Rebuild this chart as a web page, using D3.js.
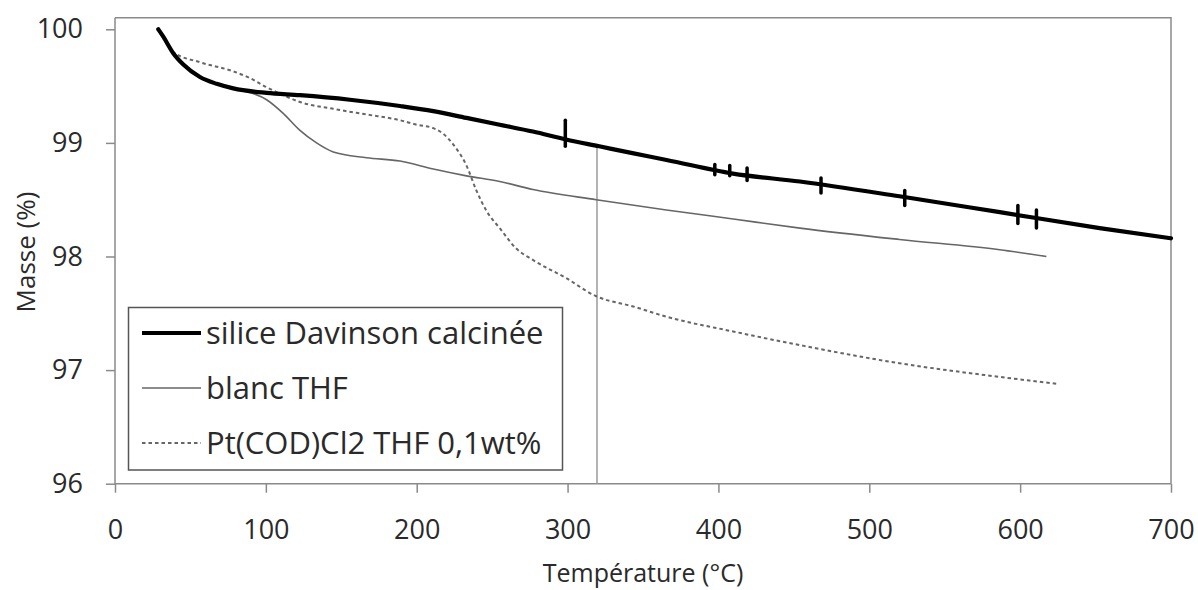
<!DOCTYPE html>
<html>
<head>
<meta charset="utf-8">
<script src="https://cdn.jsdelivr.net/npm/d3@7"></script>
<style>
  html, body { margin: 0; padding: 0; background: #fff; }
  svg { display: block; }
  text { font-family: "Open Sans", "DejaVu Sans", sans-serif; fill: #2a2a2a; }
</style>
</head>
<body>
<svg id="chart" width="1198" height="590"></svg>
<script>
// ---- Data ----
const xTicks = [0, 100, 200, 300, 400, 500, 600, 700];
const yTicks = [96, 97, 98, 99, 100];

const seriesNames = ["silice Davinson calcinée", "blanc THF", "Pt(COD)Cl2 THF 0,1wt%"];

const tempSilice  = [28.7, 32, 38.6, 45.3, 56.3, 67.4, 78.4, 100.5, 122.6, 155.7, 188.9, 211, 233, 255, 277, 299, 321, 343, 365.6, 409.6, 454, 520, 586.5, 652.7, 700];
const masseSilice = [100, 99.935, 99.79, 99.69, 99.58, 99.52, 99.48, 99.44, 99.42, 99.38, 99.325, 99.28, 99.22, 99.16, 99.10, 99.03, 98.97, 98.91, 98.85, 98.73, 98.66, 98.53, 98.39, 98.25, 98.16];

const tempBlanc  = [28.7, 32, 38.6, 45.3, 56.3, 67.4, 78.4, 85, 100.5, 111.5, 122.6, 133.6, 144.7, 166.8, 188.9, 211, 233, 255, 277, 319, 365.5, 409.8, 454, 520, 586.5, 617.4];
const masseBlanc = [100, 99.935, 99.79, 99.69, 99.58, 99.52, 99.48, 99.46, 99.38, 99.26, 99.11, 99.0, 98.92, 98.87, 98.84, 98.77, 98.71, 98.66, 98.59, 98.50, 98.41, 98.33, 98.25, 98.15, 98.06, 98.0];

const tempPt  = [28.7, 32, 38.6, 56.3, 78.4, 89.5, 100.5, 111.5, 122.6, 144.7, 166.8, 188.9, 200, 211, 217.6, 224, 233, 239.6, 246.3, 255, 266, 277, 299, 319, 343.5, 365.5, 409.7, 454, 520, 586.5, 624];
const massePt = [100, 99.935, 99.80, 99.71, 99.63, 99.57, 99.49, 99.42, 99.36, 99.30, 99.25, 99.20, 99.16, 99.13, 99.08, 98.99, 98.80, 98.58, 98.40, 98.25, 98.07, 97.97, 97.81, 97.65, 97.56, 97.47, 97.34, 97.22, 97.06, 96.94, 96.88];

// noise spikes on the silice curve: temperature, low, high
const spikeTemp = [298.5, 397.6, 407.5, 419, 468, 523.5, 598.5, 610.8];
const spikeLow  = [98.97, 98.72, 98.71, 98.67, 98.56, 98.45, 98.29, 98.25];
const spikeHigh = [99.20, 98.81, 98.80, 98.78, 98.69, 98.58, 98.45, 98.41];

// vertical marker line
const markerTemp = 319.5;
const markerTop = 98.97;

// ---- Layout ----
const svg = d3.select("#chart");
const x = d3.scaleLinear().domain([0, 700]).range([115, 1171]);
const y = d3.scaleLinear().domain([96, 100]).range([483.7, 29.3]);
const yTopVal = 100.102;

const frameColor = "#8a8a8a";

// frame (top and right)
svg.append("path")
  .attr("d", `M${x(0)},${y(yTopVal)} H${x(700)} V${y(96)}`)
  .attr("fill", "none").attr("stroke", frameColor).attr("stroke-width", 1.5);

// axes
const xAxis = svg.append("g").attr("transform", `translate(0,${y(96)})`)
  .call(d3.axisBottom(x).tickValues(xTicks).tickFormat(d3.format("d")).tickSize(9).tickPadding(27));
const yAxis = svg.append("g").attr("transform", `translate(${x(0)},0)`)
  .call(d3.axisLeft(y).tickValues(yTicks).tickFormat(d3.format("d")).tickSize(9).tickPadding(23));
[xAxis, yAxis].forEach(g => {
  g.select(".domain").remove();
  g.selectAll(".tick line").attr("stroke", frameColor).attr("stroke-width", 1.5);
  g.selectAll(".tick text").style("font-family", "'Open Sans', sans-serif")
    .style("font-size", "27px").attr("fill", "#2a2a2a");
});
// axis lines
svg.append("line").attr("x1", x(0)).attr("x2", x(700)).attr("y1", y(96)).attr("y2", y(96))
  .attr("stroke", frameColor).attr("stroke-width", 1.5);
svg.append("line").attr("x1", x(0)).attr("x2", x(0)).attr("y1", y(96)).attr("y2", y(yTopVal))
  .attr("stroke", frameColor).attr("stroke-width", 1.5);

// axis titles
svg.append("text").attr("x", (x(0) + x(700)) / 2).attr("y", 582)
  .attr("text-anchor", "middle").style("font-size", "25px").text("Température (°C)");
svg.append("text").attr("transform", `translate(35,252) rotate(-90)`)
  .attr("text-anchor", "middle").style("font-size", "26px").text("Masse (%)");

// marker line
svg.append("line").attr("x1", x(markerTemp)).attr("x2", x(markerTemp))
  .attr("y1", y(markerTop)).attr("y2", y(96))
  .attr("stroke", "#9a9a9a").attr("stroke-width", 1.5);

const line = d3.line().x(d => x(d[0])).y(d => y(d[1])).curve(d3.curveMonotoneX);
const zip = (a, b) => a.map((v, i) => [v, b[i]]);

// Pt dotted
svg.append("path").datum(zip(tempPt, massePt)).attr("d", line)
  .attr("fill", "none").attr("stroke", "#666").attr("stroke-width", 2)
  .attr("stroke-dasharray", "3.5,3");
// blanc
svg.append("path").datum(zip(tempBlanc, masseBlanc)).attr("d", line)
  .attr("fill", "none").attr("stroke", "#666").attr("stroke-width", 1.6);
// silice
svg.append("path").datum(zip(tempSilice, masseSilice)).attr("d", line)
  .attr("fill", "none").attr("stroke", "#000").attr("stroke-width", 4.2)
  .attr("stroke-linecap", "round");
// spikes
svg.append("g").selectAll("line").data(spikeTemp).join("line")
  .attr("x1", d => x(d)).attr("x2", d => x(d))
  .attr("y1", (d, i) => y(spikeHigh[i])).attr("y2", (d, i) => y(spikeLow[i]))
  .attr("stroke", "#000").attr("stroke-width", 3.5).attr("stroke-linecap", "round");

// legend
const lg = svg.append("g");
lg.append("rect").attr("x", 128.5).attr("y", 307.5).attr("width", 434).attr("height", 162.5)
  .attr("fill", "#fff").attr("stroke", "#555").attr("stroke-width", 1.5);
const legendStyles = [
  { stroke: "#000", width: 4.2, dash: null },
  { stroke: "#666", width: 1.6, dash: null },
  { stroke: "#666", width: 2, dash: "3.5,3" }
];
const rowY = [333, 388, 443];
seriesNames.forEach((name, i) => {
  const s = legendStyles[i];
  lg.append("line").attr("x1", 142).attr("x2", 201).attr("y1", rowY[i]).attr("y2", rowY[i])
    .attr("stroke", s.stroke).attr("stroke-width", s.width)
    .attr("stroke-dasharray", s.dash);
  lg.append("text").attr("x", 206).attr("y", rowY[i]).attr("dy", "0.36em")
    .style("font-size", "31px").text(name);
});
</script>
</body>
</html>
